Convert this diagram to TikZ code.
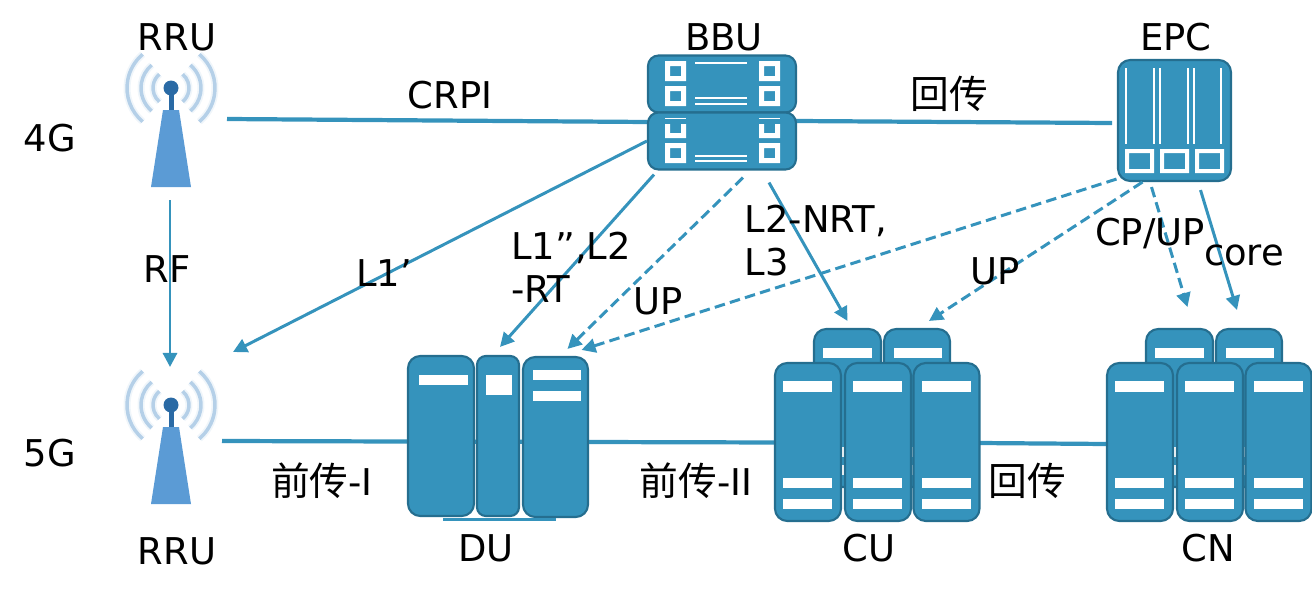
\documentclass[tikz,border=0pt]{standalone}
\usepackage{fontspec}
\setmainfont{DejaVu Sans}
\newfontfamily\cjk[Scale=1.05]{Noto Sans CJK SC}
\usetikzlibrary{arrows.meta,backgrounds}
\definecolor{unitblue}{HTML}{3593BC}
\definecolor{unitedge}{HTML}{256E8F}
\definecolor{waveblue}{HTML}{B5D0E8}
\definecolor{towerblue}{HTML}{5B9BD5}
\definecolor{ballblue}{HTML}{2A6AA5}
\tikzset{
  unit/.style n args={2}{draw=unitedge,fill=unitblue,line width=1.2pt,inner sep=0pt,
    minimum width=#1*0.02cm,minimum height=#2*0.02cm,rounded corners=7pt},
  bbubox/.style={unit={148}{57},rounded corners=6pt},
  bar/.style={fill=white},
  link/.style={draw=unitblue,line width=2.4pt},
  arrowlink/.style={draw=unitblue,line width=1.7pt,-{Triangle[length=8pt,width=8pt]}},
  dashlink/.style={arrowlink,dash pattern=on 6pt off 3pt},
  lab/.style={font=\fontsize{21}{24.5}\selectfont,inner sep=0pt,align=left},
  pics/mast/.style={code={
    \foreach \r in {18,30,44} {
      \draw[waveblue,line width=4pt,opacity=0.2] (0,0) ++(-50:\r) arc[start angle=-50,end angle=50,radius=\r];
      \draw[waveblue,line width=4pt,opacity=0.2] (0,0) ++(130:\r) arc[start angle=130,end angle=230,radius=\r];
      \draw[waveblue,line width=2pt] (0,0) ++(-50:\r) arc[start angle=-50,end angle=50,radius=\r];
      \draw[waveblue,line width=2pt] (0,0) ++(130:\r) arc[start angle=130,end angle=230,radius=\r];
    }
    \fill[ballblue] (-2.5,0) rectangle (2.5,24);
    \fill[ballblue] (0,0) circle (7.5);
    \fill[towerblue] (-8,22) -- (8,22) -- (20,99) -- (-20,99) -- cycle;
  }}
}
\begin{document}
\begin{tikzpicture}[x=0.02cm,y=-0.02cm]
  \useasboundingbox (0,0) rectangle (1312,595);
  % antennas
  \pic at (171,88) {mast};
  \pic at (171,405) {mast};
  % BBU
  \node[bbubox] (bbua) at (722,84) {};
  \node[bbubox] (bbub) at (722,141) {};
  \foreach \sx in {665,759} {
    \fill[bar,even odd rule] (\sx,61) rectangle +(21,20) (\sx+5,66) rectangle +(11,10);
    \fill[bar,even odd rule] (\sx,86) rectangle +(21,20) (\sx+5,91) rectangle +(11,10);
    \fill[bar] (\sx,118) rectangle +(21,1);
    \fill[bar] (\sx,124) -- +(5,0) -- +(5,9) -- +(16,9) -- +(16,0) -- +(21,0) -- +(21,14) -- +(0,14) -- cycle;
    \fill[bar,even odd rule] (\sx,143) rectangle +(21,20) (\sx+5,148) rectangle +(11,10);
  }
  \foreach \ly in {63,98,104,156,161}
    \fill[bar] (695,\ly-1) rectangle (747,\ly+1);
  % EPC
  \node[unit={113}{121}] (epc) at (1174.5,120.5) {};
  \foreach \lx in {1126,1154,1160,1188,1194,1221}
    \fill[bar] (\lx-1,68) rectangle (\lx+1,144);
  \foreach \sx in {1125,1160,1195}
    \fill[bar,even odd rule] (\sx,149) rectangle +(29,24) (\sx+4,153) rectangle +(21,16);
  % DU
  \node[unit={66}{160}] (dua) at (441,436) {};
  \node[unit={42}{160},rounded corners=5pt] (dub) at (498,436) {};
  \node[unit={65}{160}] (duc) at (555.5,437) {};
  \fill[bar] (419,375) rectangle (468,385);
  \fill[bar] (486,375) rectangle (512,395);
  \fill[bar] (533,370) rectangle (581,380);
  \fill[bar] (533,391) rectangle (581,401);
  \fill[unitblue] (443,518) rectangle (556,521);
  % CU and CN racks
  \foreach \ox/\rack in {0/cu,332/cn} {
    \node[unit={67}{158}] (\rack a) at (\ox+847.5,408) {};
    \node[unit={66}{158}] (\rack b) at (\ox+917,408) {};
    \fill[bar] (\ox+823,348) rectangle (\ox+872,358);
    \fill[bar] (\ox+894,348) rectangle (\ox+942,358);
    \foreach \ly in {447,465}
      \fill[bar] (\ox+823,\ly) rectangle (\ox+942,\ly+10);
  }
  \foreach \ox/\rack in {0/cu,332/cn} {
    \foreach \fx/\part in {808/c,878/d,946.5/e} {
      \node[unit={66}{158}] (\rack\part) at (\ox+\fx,442) {};
      \fill[bar] (\ox+\fx-25,381) rectangle (\ox+\fx+24,392);
      \fill[bar] (\ox+\fx-25,478) rectangle (\ox+\fx+24,488);
      \fill[bar] (\ox+\fx-25,499) rectangle (\ox+\fx+24,509);
    }
  }
  % free ends
  \coordinate (rruaout) at (227,119);
  \coordinate (rrubout) at (222,441);
  \coordinate (bbuin) at (648,122);
  \coordinate (bbuout) at (796,121);
  \coordinate (epcin) at (1112,123);
  \coordinate (rfstart) at (170,200);
  \coordinate (rfend) at (170,367);
  \coordinate (rrubin) at (233,352);
  \coordinate (duout) at (588,442);
  \coordinate (cuout) at (979,443);
  \coordinate (cnin) at (1107,444);
  % links go behind the boxes
  \begin{scope}[on background layer]
    \draw[link] (rruaout) -- (bbuin);
    \draw[link] (bbuout) -- (epcin);
    \draw[link] (rrubout) -- (duout);
    \draw[link] (duout) -- (cuout);
    \draw[link] (cuout) -- (cnin);
  \end{scope}
  \draw[arrowlink] (rfstart) -- (rfend);
  \draw[arrowlink] (bbub.west) -- (rrubin);
  \draw[arrowlink] ([shift={(-68,4)}]bbub.south) -- ([shift={(2,-8)}]dub.north);
  \draw[dashlink] ([shift={(21,7)}]bbub.south) -- ([shift={(12,-7)}]duc.north);
  \draw[dashlink] ([shift={(-58,-3)}]epc.south) -- ([shift={(26,-6)}]duc.north);
  \draw[arrowlink] ([shift={(47,12)}]bbub.south) -- ([shift={(0,-7)}]cua.north);
  \draw[dashlink] ([shift={(-32,0)}]epc.south) -- ([shift={(12,-7)}]cub.north);
  \draw[dashlink] ([shift={(-23,5)}]epc.south) -- ([shift={(8,-21)}]cna.north);
  \draw[arrowlink] ([shift={(26,8)}]epc.south) -- ([shift={(-12,-18)}]cnb.north);
  % labels
  \node[lab] (rrualab) at (177,37) {RRU};
  \node[lab] (rrublab) at (177,551) {RRU};
  \node[lab] (g4lab) at (50,138) {4G};
  \node[lab] (g5lab) at (50,453) {5G};
  \node[lab] (rflab) at (167,269) {RF};
  \node[lab] (crpilab) at (450,95) {CRPI};
  \node[lab] (bhalab) at (949,94) {\cjk 回传};
  \node[lab] (bbulab) at (724,37) {BBU};
  \node[lab] (epclab) at (1176,37) {EPC};
  \node[lab] (l1lab) at (384,273) {L1’};
  \node[lab] (l2lab) at (571,267) {L1’\kern-0.1em’,L2\\-RT};
  \node[lab] (upalab) at (658,301) {UP};
  \node[lab] (nrtlab) at (816,241) {L2-NRT,\\L3};
  \node[lab] (upblab) at (995,271) {UP};
  \node[lab] (cplab) at (1150,234) {CP/UP};
  \node[lab] (corelab) at (1244,255) {core};
  \node[lab] (fhalab) at (322,481) {{\cjk 前传}-I};
  \node[lab] (fhblab) at (696,481) {{\cjk 前传}-II};
  \node[lab] (bhblab) at (1027,481) {\cjk 回传};
  \node[lab] (dulab) at (486,548) {DU};
  \node[lab] (culab) at (869,548) {CU};
  \node[lab] (cnlab) at (1208,548) {CN};
\end{tikzpicture}
\end{document}
